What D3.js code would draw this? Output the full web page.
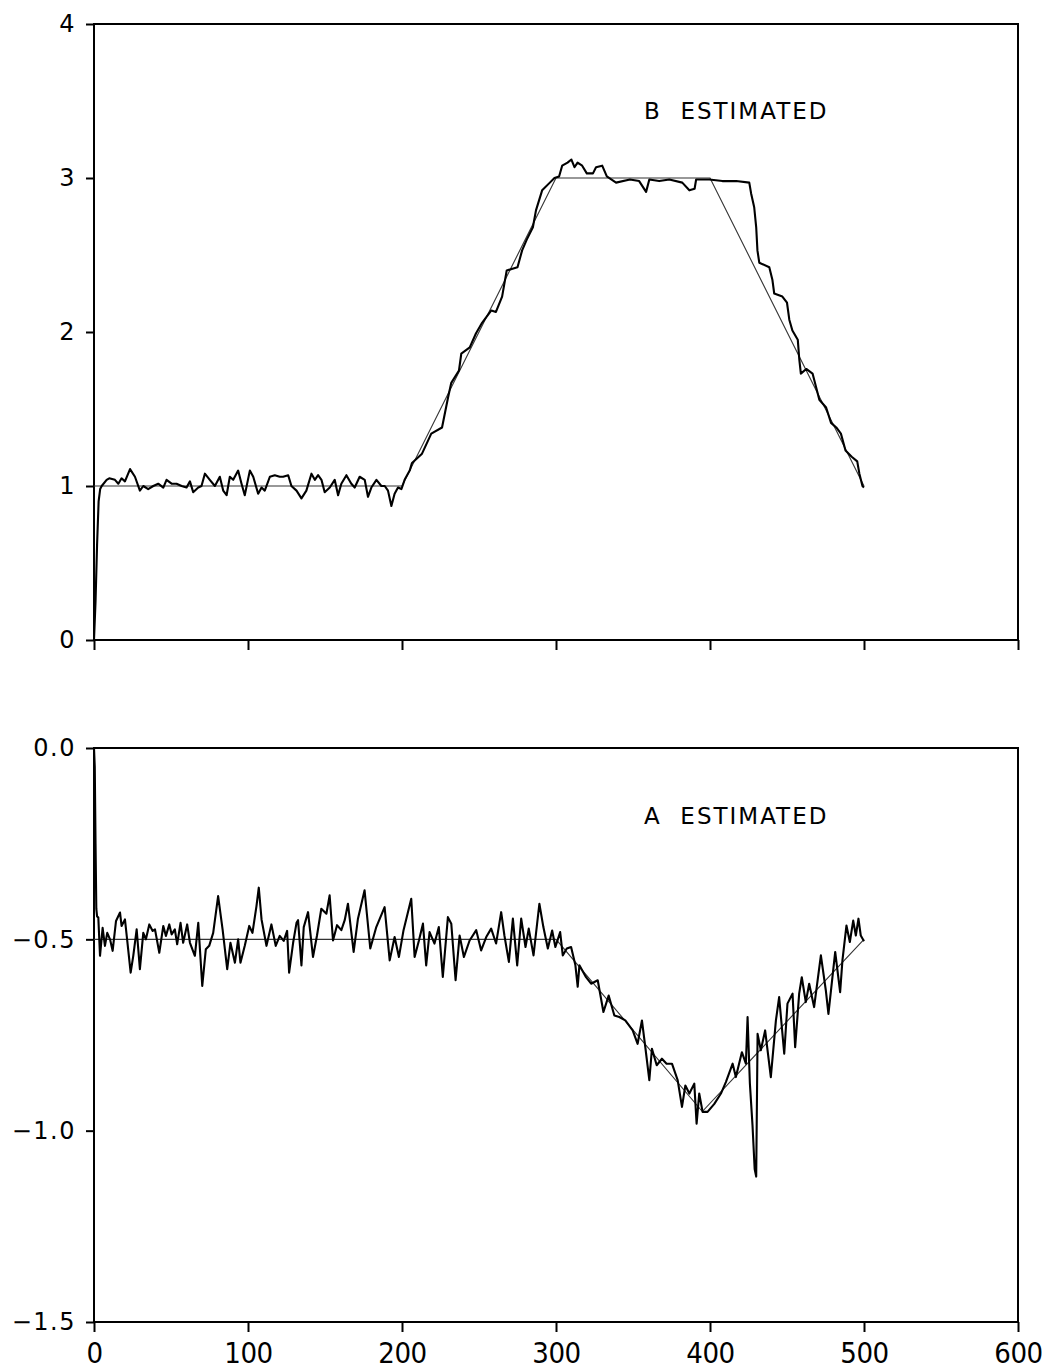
<!DOCTYPE html>
<html>
<head>
<meta charset="utf-8">
<script src="https://cdn.jsdelivr.net/npm/d3@7"></script>
<style>
  body { margin: 0; background: #fff; }
  text { font-family: "DejaVu Sans", sans-serif; fill: #000; }
</style>
</head>
<body>
<div id="chart"></div>
<script>
// x ticks shared by both panels
const xTicks = [0, 100, 200, 300, 400, 500, 600];
const bTicks = [0, 1, 2, 3, 4];
const aTicks = [0.0, -0.5, -1.0, -1.5];

// true parameters (thin lines)
const bTrue = [[0, 1], [200, 1], [300, 3], [400, 3], [500, 1]];
const aTrue = [[0, -0.5], [300, -0.5], [395, -0.95], [500, -0.5]];

// estimated B
const bEstimated = [[0,0],[1,0.25],[2,0.62],[3,0.9],[4,0.98],[5,1.0],[8.2,1.04],[9.9,1.05],[13.6,1.04],[15.8,1.015],
  [17.9,1.05],[20.1,1.03],[23.4,1.11],[26.6,1.06],[29.8,0.97],[32,1.0],[35.2,0.98],[38.5,1.0],[41.7,1.015],[45,0.99],
  [47.1,1.04],[50.4,1.015],[53.6,1.015],[56.9,1.0],[60.1,0.99],[62.3,1.03],[64.4,0.96],[67.7,0.99],[69.8,1.0],[72,1.08],
  [75.2,1.04],[78.5,1.0],[81.7,1.06],[83.9,0.97],[86.1,0.94],[88.2,1.06],[90.4,1.04],[93.6,1.1],[95.8,1.015],[97.9,0.94],
  [101.2,1.1],[103.4,1.06],[106.6,0.95],[108.8,0.99],[110.9,0.97],[114.2,1.06],[117.4,1.07],[120.6,1.06],[122.8,1.06],
  [126.1,1.07],[128.2,1.0],[131.5,0.97],[134.7,0.92],[137.9,0.97],[141.2,1.08],[143.4,1.04],[145.5,1.07],[147.7,1.04],
  [149.8,0.96],[153.1,0.99],[156.3,1.04],[158.5,0.94],[160.6,1.015],[163.9,1.07],[167.1,1.015],[169.3,0.99],[172.5,1.06],
  [175.8,1.04],[177.9,0.93],[180.1,0.99],[183.4,1.04],[186.6,1.0],[188.8,1.0],[190.9,0.97],[193.1,0.87],[195.2,0.95],
  [197.4,0.99],[199.6,0.98],[201.7,1.04],[205,1.1],[206.5,1.15],[213,1.21],[219,1.34],[226,1.38],[230,1.58],[232,1.67],
  [237,1.75],[238.5,1.86],[244,1.9],[248,1.99],[252,2.06],[258,2.14],[261,2.13],[265,2.23],[268,2.4],[275,2.42],
  [278,2.53],[281,2.6],[285,2.68],[287,2.79],[291,2.92],[296,2.97],[299,3.0],[302,3.01],[304,3.08],[307.5,3.1],[310,3.12],
  [312,3.07],[314,3.1],[317,3.08],[320,3.03],[324,3.03],[326,3.07],[330,3.08],[333,3.01],[339,2.97],[348,2.99],[354,2.98],
  [358.5,2.91],[360.6,2.99],[367,2.98],[373.6,2.99],[382,2.97],[386.6,2.92],[390,2.93],[391,2.99],[399.6,2.99],[408,2.98],
  [417,2.98],[425.5,2.97],[426.7,2.9],[428.7,2.81],[430,2.68],[430.8,2.53],[432,2.45],[438.5,2.42],[440.5,2.34],
  [441.7,2.25],[447,2.23],[450,2.19],[451.5,2.08],[453.5,2.01],[457,1.95],[458,1.82],[459,1.73],[462.5,1.76],[466.6,1.73],
  [471,1.56],[475.4,1.51],[478.6,1.41],[482,1.38],[485,1.34],[488,1.23],[492,1.19],[495.6,1.16],[497,1.08],[499,1.0],[500,0.99]];

// estimated A
const aEstimated = [[0,0],[0.5,-0.05],[1,-0.25],[1.5,-0.42],[2,-0.44],[2.8,-0.443],[3.9,-0.543],[5.6,-0.47],[7.1,-0.517],
  [8.6,-0.483],[10.4,-0.5],[12.1,-0.53],[14.3,-0.452],[16.9,-0.43],[17.9,-0.465],[20.1,-0.448],[21.6,-0.504],[23.8,-0.587],
  [25.5,-0.543],[27.7,-0.474],[29.8,-0.578],[32,-0.483],[33.7,-0.5],[35.9,-0.461],[38.1,-0.478],[39.6,-0.474],[42.4,-0.535],
  [45,-0.465],[46.7,-0.491],[48.9,-0.461],[50.4,-0.487],[52.5,-0.474],[54,-0.513],[56.2,-0.457],[57.9,-0.509],[60.5,-0.461],
  [62.3,-0.509],[65.5,-0.543],[67.7,-0.457],[70.3,-0.622],[72.6,-0.526],[74.8,-0.517],[77.4,-0.483],[80.6,-0.387],
  [83.5,-0.474],[86.5,-0.578],[88.6,-0.509],[91.5,-0.561],[93.6,-0.5],[95.1,-0.561],[97.9,-0.517],[100.8,-0.465],
  [102.9,-0.483],[105.5,-0.413],[107,-0.365],[108.8,-0.448],[112,-0.517],[115.2,-0.461],[118,-0.517],[120.6,-0.491],
  [123.2,-0.504],[125.4,-0.478],[126.7,-0.587],[129.3,-0.509],[131.5,-0.457],[132.5,-0.45],[134.7,-0.568],[136.2,-0.468],
  [139,-0.429],[142.2,-0.546],[144.8,-0.49],[147.6,-0.42],[150.9,-0.433],[153,-0.385],[155.2,-0.503],[157.8,-0.463],
  [160.6,-0.476],[162.8,-0.45],[164.9,-0.407],[168.6,-0.533],[171.4,-0.446],[175.7,-0.372],[179.4,-0.524],[183.3,-0.468],
  [188.7,-0.416],[192,-0.555],[195.2,-0.494],[198,-0.546],[201,-0.476],[206,-0.394],[208.2,-0.546],[211,-0.503],
  [213.6,-0.459],[215.7,-0.568],[217.9,-0.481],[221.1,-0.511],[223.9,-0.468],[226.5,-0.598],[229.8,-0.442],[232,-0.459],
  [234.8,-0.607],[237.4,-0.49],[240.2,-0.546],[243.9,-0.503],[248.2,-0.476],[251.4,-0.529],[254.7,-0.494],[257.9,-0.472],
  [261.1,-0.511],[264.4,-0.429],[266.5,-0.49],[269.4,-0.559],[272,-0.446],[274.8,-0.568],[277.4,-0.446],[280.2,-0.52],
  [282.3,-0.472],[285.4,-0.542],[289.2,-0.407],[291.8,-0.468],[294.7,-0.524],[297.5,-0.477],[299.6,-0.52],[302.7,-0.481],
  [304.4,-0.542],[307,-0.524],[309.8,-0.52],[312.6,-0.568],[314.1,-0.624],[315.2,-0.568],[319.5,-0.599],[322.8,-0.616],
  [327.1,-0.607],[330.8,-0.69],[334.2,-0.647],[337.9,-0.699],[341.1,-0.703],[345,-0.712],[349.8,-0.738],[353,-0.773],
  [355.8,-0.712],[358,-0.782],[360.6,-0.868],[362.3,-0.786],[365.4,-0.829],[368.8,-0.812],[371.8,-0.825],[375.3,-0.825],
  [379,-0.868],[381.8,-0.938],[384,-0.882],[386.6,-0.903],[389.8,-0.877],[391.3,-0.982],[393,-0.903],[395.2,-0.951],
  [398.4,-0.951],[402.8,-0.93],[407.1,-0.903],[410.3,-0.873],[414.7,-0.825],[416.8,-0.86],[420.7,-0.795],[423.3,-0.825],
  [424.4,-0.703],[425.9,-0.877],[427.6,-0.986],[429,-1.1],[430,-1.12],[430.9,-0.747],[433,-0.79],[435.8,-0.738],
  [439.5,-0.86],[442.8,-0.712],[444.9,-0.651],[448.2,-0.799],[450.3,-0.668],[453.6,-0.642],[455.3,-0.782],[457.9,-0.642],
  [459.6,-0.599],[462.2,-0.664],[464.4,-0.616],[467.6,-0.677],[472,-0.542],[475.2,-0.633],[476.9,-0.695],[481.3,-0.533],
  [484.5,-0.638],[486,-0.555],[488.6,-0.464],[490.8,-0.507],[493,-0.451],[494.7,-0.49],[496.4,-0.446],[497.9,-0.49],[500,-0.505]];

const W = 1048, H = 1372;
const left = 94, right = 1018;

const svg = d3.select("#chart").append("svg")
  .attr("width", W)
  .attr("height", H);

const x = d3.scaleLinear().domain([0, 600]).range([left, right]);

function panel(top, bottom, yDomain, ticks, fmt, trueData, estData, label, labelY, showX) {
  const y = d3.scaleLinear().domain(yDomain).range([bottom, top]);
  const g = svg.append("g");

  // frame
  g.append("rect")
    .attr("x", left).attr("y", top)
    .attr("width", right - left).attr("height", bottom - top)
    .attr("fill", "none").attr("stroke", "#000").attr("stroke-width", 2);

  // y axis
  const ya = g.append("g")
    .attr("transform", "translate(" + left + ",0)")
    .call(d3.axisLeft(y).tickValues(ticks).tickSize(8).tickPadding(10).tickFormat(fmt));
  ya.select(".domain").remove();
  ya.selectAll("line").attr("stroke-width", 2);
  ya.selectAll("text").style("font-size", "24px").style("letter-spacing", "1.5px");

  // x axis
  const xa = g.append("g")
    .attr("transform", "translate(0," + bottom + ")")
    .call(d3.axisBottom(x).tickValues(xTicks).tickSize(10).tickPadding(10)
      .tickFormat(showX ? d3.format("d") : ""));
  xa.select(".domain").remove();
  xa.selectAll("line").attr("stroke-width", 2);
  xa.selectAll("text")
    .style("font-family", "'DejaVu Sans Condensed', 'DejaVu Sans', sans-serif")
    .style("font-size", "29px")
    .style("letter-spacing", "-0.5px");

  const line = d3.line().x(d => x(d[0])).y(d => y(d[1]));

  g.append("path").datum(trueData)
    .attr("d", line)
    .attr("fill", "none").attr("stroke", "#333").attr("stroke-width", 1.1);

  g.append("path").datum(estData)
    .attr("d", line)
    .attr("fill", "none").attr("stroke", "#000").attr("stroke-width", 2.1)
    .attr("stroke-linejoin", "round");

  g.append("text")
    .attr("x", 644).attr("y", labelY)
    .style("font-size", "23px")
    .style("letter-spacing", "2px")
    .style("white-space", "pre")
    .text(label);
}

panel(24, 640, [0, 4], bTicks, d3.format("d"), bTrue, bEstimated, "B  ESTIMATED", 119, false);
panel(748, 1322, [-1.5, 0], aTicks, d3.format(".1f"), aTrue, aEstimated, "A  ESTIMATED", 824, true);
</script>
</body>
</html>
